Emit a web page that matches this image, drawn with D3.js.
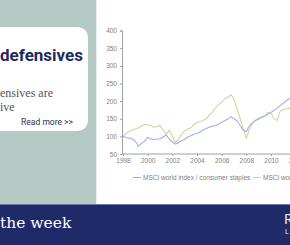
<!DOCTYPE html>
<html>
<head>
    <script src="https://d3js.org/d3.v7.min.js" charset="utf-8"></script>
    <style>
        body { margin: 0; overflow: hidden; }
    </style>
</head>
<body>
    <svg></svg>
    <script>
        var width = 290;
        var height = 245;

        // decimal years shared by both series
        var years = [1998, 1998.25, 1998.5, 1998.75, 1999, 1999.25, 1999.5, 1999.75,
                     2000, 2000.25, 2000.5, 2000.75, 2001, 2001.25, 2001.5, 2001.75,
                     2002, 2002.25, 2002.5, 2002.75, 2003, 2003.25, 2003.5, 2003.75,
                     2004, 2004.25, 2004.5, 2004.75, 2005, 2005.25, 2005.5, 2005.75,
                     2006, 2006.25, 2006.5, 2006.75, 2007, 2007.25, 2007.5, 2007.75,
                     2008, 2008.25, 2008.5, 2008.75, 2009, 2009.25, 2009.5, 2009.75,
                     2010, 2010.25, 2010.5, 2010.75, 2011, 2011.25, 2011.5, 2011.75];

        // MSCI world index / consumer staples (blue)
        var staples = [100, 97, 95, 93, 86, 72, 80, 86,
                       97, 93, 91, 92, 93, 98, 104, 92,
                       84, 78, 82, 88, 91, 98, 102, 106,
                       108, 112, 118, 122, 126, 129, 131, 135,
                       140, 144, 149, 156, 150, 144, 130, 118,
                       114, 130, 138, 145, 149, 154, 158, 163,
                       168, 174, 180, 187, 194, 201, 208, 214];

        // MSCI world index (green)
        var world = [100, 108, 114, 118, 121, 124, 130, 134,
                     133, 131, 126, 128, 131, 118, 106, 117,
                     100, 82, 93, 106, 116, 121, 124, 133,
                     139, 142, 145, 150, 160, 168, 181, 190,
                     197, 206, 211, 218, 205, 178, 150, 120,
                     95, 120, 138, 146, 152, 155, 157, 168,
                     166, 150, 145, 172, 176, 178, 180, 176];

        var yTicks = [50, 100, 150, 200, 250, 300, 350, 400];
        var xTicks = [1998, 2000, 2002, 2004, 2006, 2008, 2010, 2012];
        var legendLabels = ["MSCI world index / consumer staples", "MSCI world index"];
        var colors = ["#98b2e8", "#d0d698"];

        var svg = d3.select("svg")
            .attr("width", width)
            .attr("height", height);

        // backgrounds
        svg.append("rect").attr("x", 0).attr("y", 0).attr("width", 96).attr("height", 204).attr("fill", "#b4c8c4");
        svg.append("rect").attr("x", 96).attr("y", 0).attr("width", 194).attr("height", 204).attr("fill", "#ffffff");
        svg.append("line").attr("x1", 96.5).attr("x2", 96.5).attr("y1", 0).attr("y2", 204).attr("stroke", "#e8efef");

        // white card, rounded on the right
        svg.append("path")
            .attr("d", "M-20,27 H76 Q88,27 88,39 V119 Q88,131 76,131 H-20 Z")
            .attr("fill", "#ffffff");

        // only the part of the card text that is visible in the crop
        svg.append("text").attr("x", 0).attr("y", 61)
            .style("font-family", "Roboto, sans-serif").style("font-weight", 700)
            .style("font-size", "17px").attr("fill", "#1f2a5e")
            .text("defensives");

        svg.append("text").attr("x", 0).attr("y", 97)
            .style("font-family", "'Liberation Serif', serif").style("font-size", "12px")
            .attr("fill", "#555555")
            .text("ensives are");
        svg.append("text").attr("x", 0).attr("y", 111)
            .style("font-family", "'Liberation Serif', serif").style("font-size", "12px")
            .attr("fill", "#555555")
            .text("ive");

        svg.append("text").attr("x", 73).attr("y", 124.5)
            .attr("text-anchor", "end")
            .style("font-family", "Roboto, sans-serif").style("font-size", "8.5px")
            .attr("fill", "#2a3150")
            .text("Read more >>");

        // bottom band
        svg.append("rect").attr("x", 0).attr("y", 204).attr("width", width).attr("height", 41).attr("fill", "#1e2b68");
        svg.append("line").attr("x1", 0).attr("x2", width).attr("y1", 204.5).attr("y2", 204.5).attr("stroke", "#6b74a8");
        svg.append("text").attr("x", 0).attr("y", 228)
            .style("font-family", "'DejaVu Serif', serif").style("font-size", "15.5px")
            .attr("fill", "#ffffff")
            .text("the week");
        svg.append("text").attr("x", 284).attr("y", 224)
            .style("font-family", "'Open Sans', sans-serif").style("font-size", "14px")
            .attr("fill", "#ffffff")
            .text("R");
        svg.append("text").attr("x", 285).attr("y", 234)
            .style("font-family", "'Open Sans', sans-serif").style("font-size", "7px")
            .attr("fill", "#ffffff")
            .text("L");

        // chart
        var x = d3.scaleLinear().domain([1998, 2010]).range([123, 271]);
        var y = d3.scaleLinear().domain([50, 400]).range([154, 30.5]);

        var chart = svg.append("g");

        var yAxis = chart.append("g")
            .attr("transform", "translate(122,0)")
            .call(d3.axisLeft(y).tickValues(yTicks).tickSize(2).tickPadding(3));
        var xAxis = chart.append("g")
            .attr("transform", "translate(0,154)")
            .call(d3.axisBottom(x).tickValues(xTicks).tickSize(2).tickPadding(2).tickFormat(d3.format("d")));
        xAxis.select(".domain").attr("d", "M122,0H300");

        chart.selectAll(".tick text")
            .style("font-family", "'Liberation Sans', sans-serif")
            .style("font-size", "6.5px")
            .attr("fill", "#808080");
        chart.selectAll(".domain, .tick line").attr("stroke", "#a0a0a0");

        var line = d3.line()
            .x(function(d, i) { return x(years[i]); })
            .y(function(d) { return y(d); });

        chart.append("path").attr("d", line(world))
            .attr("fill", "none").attr("stroke", colors[1]).attr("stroke-width", 1.1);
        chart.append("path").attr("d", line(staples))
            .attr("fill", "none").attr("stroke", colors[0]).attr("stroke-width", 1.1);

        // legend
        var legendX = [133, 253];
        legendLabels.forEach(function(label, i) {
            chart.append("line")
                .attr("x1", legendX[i]).attr("x2", legendX[i] + 8)
                .attr("y1", 177.5).attr("y2", 177.5)
                .attr("stroke", colors[i]).attr("stroke-width", 1);
            chart.append("text")
                .attr("x", legendX[i] + 10).attr("y", 179.8)
                .style("font-family", "'Liberation Sans', sans-serif")
                .style("font-size", "6.5px").attr("fill", "#808080")
                .text(label);
        });
    </script>
</body>
</html>
